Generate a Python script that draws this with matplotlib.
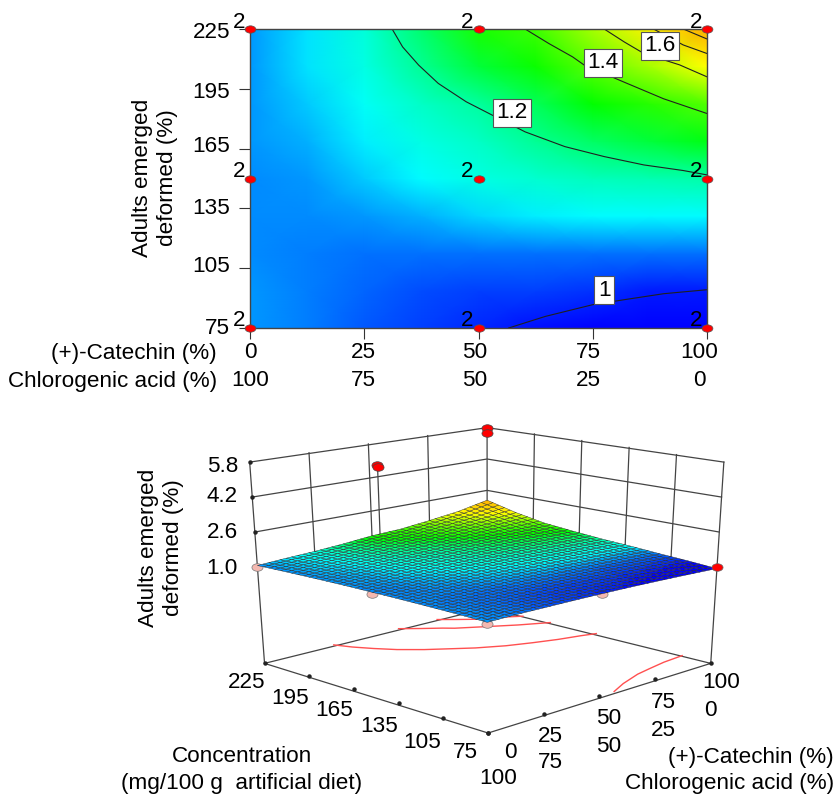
import numpy as np
import matplotlib
matplotlib.use("Agg")
import matplotlib.pyplot as plt
from matplotlib.collections import PolyCollection
from matplotlib.colors import LinearSegmentedColormap, Normalize
from matplotlib.path import Path
from matplotlib.transforms import Affine2D

plt.rcParams["font.family"] = ["Liberation Sans", "DejaVu Sans"]

catechin = [0, 12.5, 25, 37.5, 50, 62.5, 75, 87.5, 100]
conc = [75, 93.75, 112.5, 131.25, 150, 168.75, 187.5, 206.25, 225]
response = [
    [1.07, 1.06, 1.035, 1.02, 1.005, 0.99, 0.97, 0.95, 0.93],
    [1.07, 1.055, 1.04, 1.025, 1.02, 1.02, 1.01, 1.00, 0.995],
    [1.065, 1.055, 1.05, 1.05, 1.05, 1.05, 1.05, 1.05, 1.05],
    [1.065, 1.065, 1.07, 1.09, 1.11, 1.125, 1.13, 1.13, 1.13],
    [1.065, 1.07, 1.10, 1.13, 1.15, 1.165, 1.18, 1.19, 1.20],
    [1.07, 1.085, 1.125, 1.15, 1.175, 1.21, 1.25, 1.28, 1.31],
    [1.07, 1.10, 1.14, 1.175, 1.205, 1.26, 1.32, 1.38, 1.45],
    [1.07, 1.115, 1.15, 1.21, 1.28, 1.34, 1.46, 1.58, 1.72],
    [1.07, 1.12, 1.16, 1.24, 1.36, 1.42, 1.58, 1.78, 2.10],
]

contour_1_x = [56.6, 64.6, 75, 81.9, 90.5, 100]
contour_1_y = [75, 80.8, 86.7, 89.2, 92.2, 94.2]
contour_12_x = [31.1, 33.4, 36.9, 41.2, 47.3, 53, 60.2, 68.9, 77.5, 86.2, 94.8, 100]
contour_12_y = [225, 216, 206.9, 197.7, 188.5, 181.8, 173.4, 166, 161, 156.8, 154, 151.8]
contour_14_x = [60.2, 65.4, 70.6, 73.2, 81.9, 90.5, 100]
contour_14_y = [225, 217.7, 211, 206.8, 198.3, 190, 182.6]
contour_16_x = [77.5, 81.9, 86.2, 94, 100]
contour_16_y = [225, 218.5, 212.7, 207, 201]
contour_18_x = [88.3, 94.8, 100]
contour_18_y = [225, 217, 212.7]
contour_20_x = [94.8, 100]
contour_20_y = [225, 220]

point_cat = [0, 50, 100, 0, 50, 100, 0, 50, 100]
point_conc = [225, 225, 225, 150, 150, 150, 75, 75, 75]
point_count = ["2"] * 9

# replicate points of the surface plot
high_cat = [53.5, 53.5, 100, 100]
high_conc = [225, 225, 225, 225]
high_val = [4.72, 4.62, 5.8, 5.55]
low_cat = [0, 0, 0, 50]
low_conc = [225, 150, 75, 75]
low_val = [1.0, 1.0, 1.0, 1.0]

z_ticks = [1.0, 2.6, 4.2, 5.8]
z_floor = -3.4
conc_ticks = [75, 105, 135, 165, 195, 225]
cat_ticks = [0, 25, 50, 75, 100]
chloro_ticks = [100, 75, 50, 25, 0]

cmap = LinearSegmentedColormap.from_list("de", [
    (0.0, "#0000ff"), (0.15 / 1.89, "#00ffff"), (0.34 / 1.89, "#00ff00"),
    (0.74 / 1.89, "#ffff00"), (1.0, "#ff0000")])
norm = Normalize(0.98, 2.87)
ellipse = Path.unit_circle().transformed(Affine2D().scale(1, 0.68))
FS = 16.2

fig = plt.figure(figsize=(8.36, 7.96), dpi=100)


def rect(left, top, right, bottom):
    return [left / 836, 1 - bottom / 796, (right - left) / 836, (bottom - top) / 796]


# overlay in pixel coordinates, holds the loose text and the 3d box
ov = fig.add_axes([0, 0, 1, 1], zorder=3)
ov.set_xlim(0, 836)
ov.set_ylim(796, 0)
ov.axis("off")

# top panel
ax = fig.add_axes(rect(250, 29, 707, 328), zorder=2)
ax.pcolormesh(catechin, conc, response, cmap=cmap, norm=norm, shading="gouraud")
lines = [(contour_1_x, contour_1_y), (contour_12_x, contour_12_y), (contour_14_x, contour_14_y),
         (contour_16_x, contour_16_y), (contour_18_x, contour_18_y), (contour_20_x, contour_20_y)]
for lx, ly in lines:
    ax.plot(lx, ly, color="#202020", lw=0.8)
ax.set_xlim(0, 100)
ax.set_ylim(75, 225)
ax.set_xticks(cat_ticks)
ax.set_xticklabels([])
ax.set_yticks(conc_ticks)
ax.set_yticklabels([])
ax.tick_params(length=8, width=0.8, color="#333333")
for s in ax.spines.values():
    s.set_color("#444444")
    s.set_linewidth(1)
ax.plot(point_cat, point_conc, ls="none", marker=ellipse, ms=7.8, mfc="#ff0000", mec="#555555",
        mew=0.5, clip_on=False, zorder=5)
for c, v, n in zip(point_cat, point_conc, point_count):
    ax.annotate(n, (c, v), xytext=(-11, 7), textcoords="offset pixels", ha="center", va="center",
                fontsize=FS, clip_on=False, zorder=6)

box = dict(boxstyle="square,pad=0.16", fc="white", ec="#555555", lw=0.8)
for txt, lx, ly in [("1.2", 57.3, 183), ("1.4", 77.2, 208), ("1.6", 89.7, 216.5), ("1", 77.5, 94)]:
    ax.text(lx, ly, txt, ha="center", va="center", fontsize=FS, bbox=box, zorder=4)

for txt, y in zip(conc_ticks, [329, 267, 208, 146, 92, 33]):
    ov.text(230, y, str(txt), ha="right", va="center", fontsize=FS)
for x, t1, t2 in zip([250, 363, 475, 588, 699], cat_ticks, chloro_ticks):
    ov.text(x, 353, str(t1), ha="center", va="center", fontsize=FS)
    ov.text(x, 380, str(t2), ha="center", va="center", fontsize=FS)
ov.text(217, 353, "(+)-Catechin (%)", ha="right", va="center", fontsize=FS)
ov.text(217, 381, "Chlorogenic acid (%)", ha="right", va="center", fontsize=FS)
ov.text(155, 178, "Adults emerged\ndeformed (%)", rotation=90, ha="center", va="center",
        fontsize=FS, linespacing=1.2, multialignment="center")


# projection of the 3d box, fitted on the corners seen in the picture
def box_coords(c, v, z):
    return np.asarray(c) / 100.0, (np.asarray(v) - 75) / 150.0, (np.asarray(z) - z_floor) / (5.8 - z_floor)


anchors = [(0, 225, z_floor, 265, 663), (100, 75, z_floor, 711, 663), (0, 75, z_floor, 488, 733),
           (100, 225, z_floor, 487, 609), (0, 225, 5.8, 250, 462), (100, 75, 5.8, 724, 462),
           (100, 225, 5.8, 487, 428), (0, 225, 1, 257, 567), (100, 75, 1, 717, 567),
           (100, 225, 1, 487, 521), (0, 75, 1.07, 487, 623)]
rows_x = []
rows_y = []
rhs_x = []
rhs_y = []
for c, v, z, px, py in anchors:
    a, b, g = box_coords(c, v, z)
    rows_x.append([a, b, 1, -px * g, a * g, b * g])
    rows_y.append([a, b, g, 1, -py * a, -py * b, -py * g])
    rhs_x.append(px)
    rhs_y.append(py)
hx = np.linalg.lstsq(np.array(rows_x, float), np.array(rhs_x, float), rcond=None)[0]
hy = np.linalg.lstsq(np.array(rows_y, float), np.array(rhs_y, float), rcond=None)[0]


def project(c, v, z):
    a, b, g = box_coords(c, v, z)
    x = (hx[0] * a + hx[1] * b + hx[2] + hx[4] * a * g + hx[5] * b * g) / (1 + hx[3] * g)
    y = (hy[0] * a + hy[1] * b + hy[2] * g + hy[3]) / (1 + hy[4] * a + hy[5] * b + hy[6] * g)
    return x, y


def line3d(c, v, z, **kw):
    px, py = project(c, v, z)
    ov.plot(px, py, **kw)


grey = dict(color="#444444", lw=0.9, zorder=1)
# floor
line3d([0, 100, 100, 0, 0], [225, 225, 75, 75, 225], [z_floor] * 5, **grey)
# upright edges
for c, v in [(0, 225), (100, 75)]:
    line3d([c, c], [v, v], [z_floor, 5.8], **grey)
line3d([100, 100], [225, 225], [1.0, 5.8], **grey)
# wall grid
for z in z_ticks[1:]:
    line3d([0, 100, 100], [225, 225, 75], [z, z, z], **grey)
for c in cat_ticks[1:-1]:
    line3d([c, c], [225, 225], [1.0, 5.8], **grey)
for v in conc_ticks[1:-1]:
    line3d([100, 100], [v, v], [1.0, 5.8], **grey)

# contours on the floor
for lx, ly in lines:
    line3d(lx, ly, [z_floor] * len(lx), color="#ff5050", lw=1.0, zorder=1.2)

# points under the surface, and the corner one level with it
px, py = project(low_cat, low_conc, low_val)
ov.plot(px, py, ls="none", marker=ellipse, ms=8, mfc="#f4b8b0", mec="#777777", mew=0.5, zorder=1.5)

# surface mesh
mesh_c = np.linspace(0, 100, 41)
mesh_v = np.linspace(75, 225, 41)
table = np.array(response)
by_col = np.array([np.interp(mesh_v, conc, table[:, j]) for j in range(len(catechin))])
mesh_z = np.array([np.interp(mesh_c, catechin, by_col[:, i]) for i in range(len(mesh_v))])
cc, vv = np.meshgrid(mesh_c, mesh_v)
sx, sy = project(cc, vv, mesh_z)
polys = []
vals = []
for i in range(40):
    for j in range(40):
        polys.append([(sx[i, j], sy[i, j]), (sx[i, j + 1], sy[i, j + 1]),
                      (sx[i + 1, j + 1], sy[i + 1, j + 1]), (sx[i + 1, j], sy[i + 1, j])])
        vals.append(mesh_z[i:i + 2, j:j + 2].mean())
pc = PolyCollection(polys, array=np.array(vals), cmap=cmap, norm=norm, edgecolors="#2a2a2a",
                    linewidths=0.3, zorder=2)
ov.add_collection(pc)

# red points above the surface with their stems
s = np.interp(high_cat[0], catechin, table[-1])
line3d([high_cat[0]] * 2, [225, 225], [s, high_val[0]], color="#444444", lw=0.9, zorder=1)
px, py = project(high_cat, high_conc, high_val)
ov.plot(px, py, ls="none", marker=ellipse, ms=8, mfc="#ff0000", mec="#444444", mew=0.5, zorder=3)
px, py = project([100], [75], [1.0])
ov.plot(px, py, ls="none", marker=ellipse, ms=8, mfc="#ff0000", mec="#666666", mew=0.5, zorder=3)

# tick dots
dot = dict(ls="none", marker="o", ms=2.2, color="#222222", zorder=1.1)
px, py = project([0] * len(conc_ticks), conc_ticks, [z_floor] * len(conc_ticks))
ov.plot(px, py, **dot)
px, py = project(cat_ticks, [75] * len(cat_ticks), [z_floor] * len(cat_ticks))
ov.plot(px, py, **dot)
px, py = project([0] * len(z_ticks), [225] * len(z_ticks), z_ticks)
ov.plot(px, py, **dot)

# loose labels of the 3d plot
for txt, x, y in zip(conc_ticks, [465, 422, 379, 334, 290, 247], [752, 742, 727, 711, 699, 683]):
    ov.text(x, y, str(txt), ha="center", va="center", fontsize=FS)
for txt, x, y in zip(cat_ticks, [510, 550, 609, 663, 721], [752, 736, 719, 703, 682]):
    ov.text(x, y, str(txt), ha="center", va="center", fontsize=FS)
for txt, x, y in zip(chloro_ticks, [498, 550, 609, 663, 710], [778, 763, 747, 731, 710]):
    ov.text(x, y, str(txt), ha="center", va="center", fontsize=FS)
for txt, y in zip(z_ticks, [568, 532, 497, 467]):
    ov.text(238, y, f"{txt:.1f}", ha="right", va="center", fontsize=FS)
ov.text(242, 757, "Concentration", ha="center", va="center", fontsize=FS)
ov.text(242, 784, "(mg/100 g  artificial diet)", ha="center", va="center", fontsize=FS)
ov.text(834, 757, "(+)-Catechin (%)", ha="right", va="center", fontsize=FS)
ov.text(834, 784, "Chlorogenic acid (%)", ha="right", va="center", fontsize=FS)
ov.text(161, 548, "Adults emerged\ndeformed (%)", rotation=90, ha="center", va="center",
        fontsize=FS, linespacing=1.2, multialignment="center")

fig.savefig("out.png", dpi=100)
